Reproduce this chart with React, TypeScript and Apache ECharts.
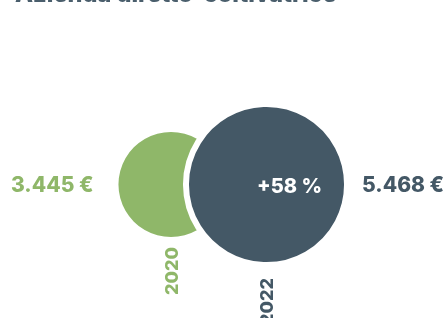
import React, { useEffect, useRef } from "react";
import * as echarts from "echarts";

const years = ["2020", "2022"];
const values = [3445, 5468];
const changeLabel = "+58 %";
const titleText = "Azienda diretto-coltivatrice";
const colors = ["#8FB769", "#445866"];

const fmt = (v: number) => String(v).replace(/\B(?=(\d{3})+(?!\d))/g, ".") + " €";
const sizeOf = (v: number) => 20 + v * 0.0247;
const FONT = "Inter, 'Noto Sans', sans-serif";

export default function App() {
  const ref = useRef<HTMLDivElement>(null);
  useEffect(() => {
    document.body.style.margin = "0";
    const chart = echarts.init(ref.current!, null, { renderer: "svg" });
    const circleData = values.map((v, i) => ({
      value: [i, 0],
      symbolSize: sizeOf(v) + (i === 1 ? 6 : 0),
      itemStyle: {
        color: colors[i],
        opacity: 1,
        borderColor: "#ffffff",
        borderWidth: i === 1 ? 6 : 0,
      },
      label: {
        show: true,
        formatter: years[i],
        position: "bottom",
        distance: 10,
        rotate: 90,
        align: "right",
        verticalAlign: "middle",
        color: colors[i],
        opacity: 1,
        fontFamily: FONT,
        fontWeight: 800,
        fontSize: 18,
      },
    }));
    const valueData = values.map((v, i) => ({
      value: [i, 0],
      symbolSize: sizeOf(v) + (i === 1 ? 6 : 0),
      itemStyle: { color: "rgba(0,0,0,0)", opacity: 1 },
      label: {
        show: true,
        formatter: fmt(v),
        position: i === 0 ? "left" : "right",
        distance: i === 0 ? 25 : 15,
        color: colors[i],
        opacity: 1,
        fontFamily: FONT,
        fontWeight: 800,
        fontSize: 21,
      },
    }));
    chart.setOption({
      animation: false,
      grid: { left: 171, right: 181.5, top: 100, bottom: 49 },
      xAxis: { type: "category", data: years, boundaryGap: false, show: false },
      yAxis: { type: "value", min: -1, max: 1, show: false },
      graphic: [
        {
          type: "text",
          x: 15,
          y: 5,
          style: {
            text: titleText,
            fill: "#4a5e6c",
            font: `800 23.5px ${FONT}`,
            verticalAlign: "bottom",
          },
        },
      ],
      series: [
        { type: "scatter", data: circleData, silent: true, z: 2 },
        { type: "scatter", data: valueData, silent: true, z: 3 },
        {
          type: "scatter",
          silent: true,
          z: 4,
          data: [
            {
              value: [1, 0],
              symbolSize: 1,
              itemStyle: { color: "rgba(0,0,0,0)", opacity: 1 },
              label: {
                show: true,
                formatter: changeLabel,
                position: "inside",
                offset: [23, 1],
                color: "#ffffff",
                opacity: 1,
                fontFamily: FONT,
                fontWeight: 800,
                fontSize: 20,
              },
            },
          ],
        },
      ],
    });
    return () => chart.dispose();
  }, []);
  return <div ref={ref} style={{ position: "fixed", left: 0, top: 0, width: 448, height: 318 }} />;
}
